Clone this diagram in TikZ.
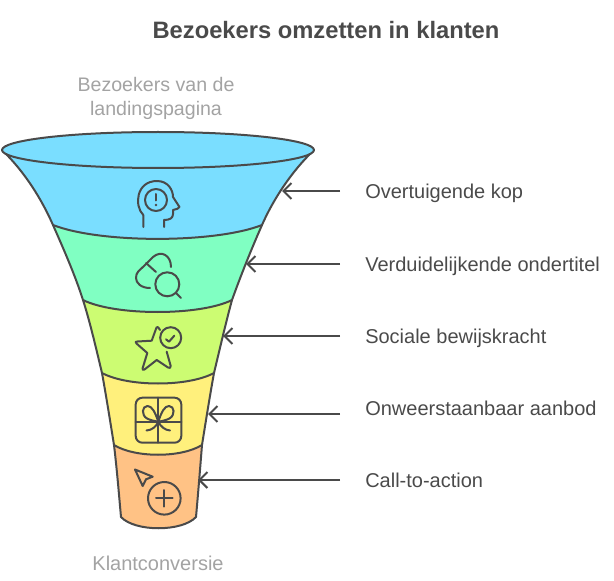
\documentclass[tikz,border=0pt]{standalone}
\usepackage{fontspec}
\setmainfont{Liberation Sans}
\usetikzlibrary{arrows.meta}
\definecolor{inkgray}{HTML}{4A4A4A}
\definecolor{softgray}{HTML}{A3A3A3}
\definecolor{bandblue}{HTML}{7ADEFF}
\definecolor{bandgreen}{HTML}{80FFC2}
\definecolor{bandlime}{HTML}{CCFC72}
\definecolor{bandyellow}{HTML}{FFF07C}
\definecolor{bandorange}{HTML}{FFC285}
\begin{document}
\begin{tikzpicture}[x=0.75pt, y=-0.75pt,
  band/.style = {draw=inkgray, line width=1.5pt, line join=round},
  icon/.style = {draw=inkgray, line width=1.5pt, line cap=round, line join=round},
  lbl/.style = {anchor=west, inner xsep=18.75pt, inner ysep=0pt, text=inkgray, font=\fontsize{15pt}{18pt}\selectfont, text height=11pt, text depth=0pt},
  pointer/.style = {draw=inkgray, line width=1.5pt, -{Straight Barb[length=6pt, width=12pt, line width=1.5pt]}}]
\useasboundingbox (0,0) rectangle (614,581);
\path [band, fill=bandorange] (114,445) .. controls (117,470) and (119,495) .. (121,517) .. controls (135,532) and (182,532) .. (196,517) .. controls (198,495) and (200,470) .. (202,445) -- cycle;
\path [band, fill=bandyellow] (102,373) .. controls (106,395) and (110,420) .. (114,445) .. controls (135,458) and (181,458) .. (202,445) .. controls (206,420) and (210,395) .. (214,373) -- cycle;
\path [band, fill=bandlime] (83,300) .. controls (90,322) and (96,348) .. (102,373) .. controls (128,387) and (188,387) .. (214,373) .. controls (220,348) and (226,322) .. (232,300) -- cycle;
\path [band, fill=bandgreen] (53,225) .. controls (64,250) and (75,275) .. (83,300) .. controls (115,316) and (200,316) .. (232,300) .. controls (241,275) and (251,250) .. (262,225) -- cycle;
\path [band, fill=bandblue] (2,150) .. controls (25,172) and (42,200) .. (53,225) .. controls (100,243.5) and (215,243.5) .. (262,225) .. controls (273,200) and (291,172) .. (314,150) -- cycle;
\path [band, fill=bandblue] (158,150) ellipse [x radius=156, y radius=18]; % funnel mouth
% head
\draw [icon] (143.3,227) -- (143.3,215) .. controls (134,206) and (136,181) .. (157,181) .. controls (168,181) and (173,190) .. (173,197) -- (179.5,207) .. controls (179,209) and (176,209) .. (173,210) -- (173,214) .. controls (173,218) and (170,220) .. (164,220) -- (164,227);
\draw [icon] (156,200) circle [radius=11];
\draw [icon] (156,194) -- (156,200.5);
\fill [inkgray] (156,205) circle [radius=1.3];
% pill and loupe
\draw [icon] (150,288) .. controls (141,288) and (136,283) .. (136,278) .. controls (136,272) and (139,271) .. (145,265) -- (153,257) .. controls (161,250) and (171,255) .. (171,267);
\draw [icon] (146,263) -- (156,272);
\draw [icon] (167.3,284.3) circle [radius=12];
\draw [icon] (176,293) -- (181,298);
% star
\draw [icon] (166.7,351.7) -- (170.7,366) .. controls (171,368) and (169.5,368.5) .. (168,367.5) -- (156.7,360) -- (144.5,369.5) .. controls (143,370.5) and (142,369.5) .. (142.7,368) -- (147.3,353) -- (136.5,343.5) .. controls (135,342) and (135.5,341.5) .. (137.5,341.5) -- (151.7,340.7) -- (156.5,327.5) .. controls (157,326.5) and (158,326.5) .. (160,330);
\draw [icon] (170.7,337.7) circle [radius=10.5];
\draw [icon] (166,339.3) -- (169,341.7) -- (174.3,335.7);
% gift
\draw [icon, rounded corners=5] (135.7,397.7) rectangle (181.3,442.7);
\draw [icon] (158.3,397.7) -- (158.3,442.7);
\draw [icon] (135.7,421.7) -- (181.3,421.7);
\draw [icon] (158.3,421.7) .. controls (155,412) and (152,406) .. (147.5,406) .. controls (142,406) and (141,415) .. (147,418.5) .. controls (150,420) and (154,421) .. (158.3,421.7);
\draw [icon] (158.3,421.7) .. controls (161.5,412) and (164.5,406) .. (169,406) .. controls (174.5,406) and (175.5,415) .. (169.5,418.5) .. controls (166.5,420) and (162.5,421) .. (158.3,421.7);
\draw [icon] (146.5,430.5) .. controls (152,430) and (156,427) .. (158.3,421.7) .. controls (161,427) and (165,430) .. (170,430.5);
% cursor and plus
\draw [icon] (135,469.5) -- (152.7,476.7) -- (146,479.3) -- (142.7,486) -- cycle;
\draw [icon] (164.3,498.3) circle [radius=16.3];
\draw [icon] (156,498.3) -- (172.6,498.3);
\draw [icon] (164.3,490) -- (164.3,506.6);
\node [text=inkgray, font=\fontsize{17.8pt}{21pt}\selectfont\bfseries] (title) at (326,30) {Bezoekers omzetten in klanten};
\node [text=softgray, align=center, font=\fontsize{14.7pt}{18pt}\selectfont] (entry) at (156,98) {Bezoekers van de\\landingspagina};
\node [text=softgray, font=\fontsize{15pt}{18pt}\selectfont] (exit) at (158,563) {Klantconversie};
\coordinate (kopTip) at (282,191);
\coordinate (ondertitelTip) at (246,264);
\coordinate (bewijsTip) at (223,336);
\coordinate (aanbodTip) at (208,414);
\coordinate (actionTip) at (198,480);
\node [lbl] (kop) at (340,191) {Overtuigende kop};
\node [lbl] (ondertitel) at (340,264) {Verduidelijkende ondertitel};
\node [lbl] (bewijs) at (340,336) {Sociale bewijskracht};
\node [lbl] (aanbod) at (340,408) {Onweerstaanbaar aanbod};
\node [lbl] (action) at (340,480) {Call-to-action};
\draw [pointer] (kop.west) -- (kopTip);
\draw [pointer] (ondertitel.west) -- (ondertitelTip);
\draw [pointer] (bewijs.west) -- (bewijsTip);
\draw [pointer] (aanbod.west |- aanbodTip) -- (aanbodTip);
\draw [pointer] (action.west) -- (actionTip);
\end{tikzpicture}
\end{document}
